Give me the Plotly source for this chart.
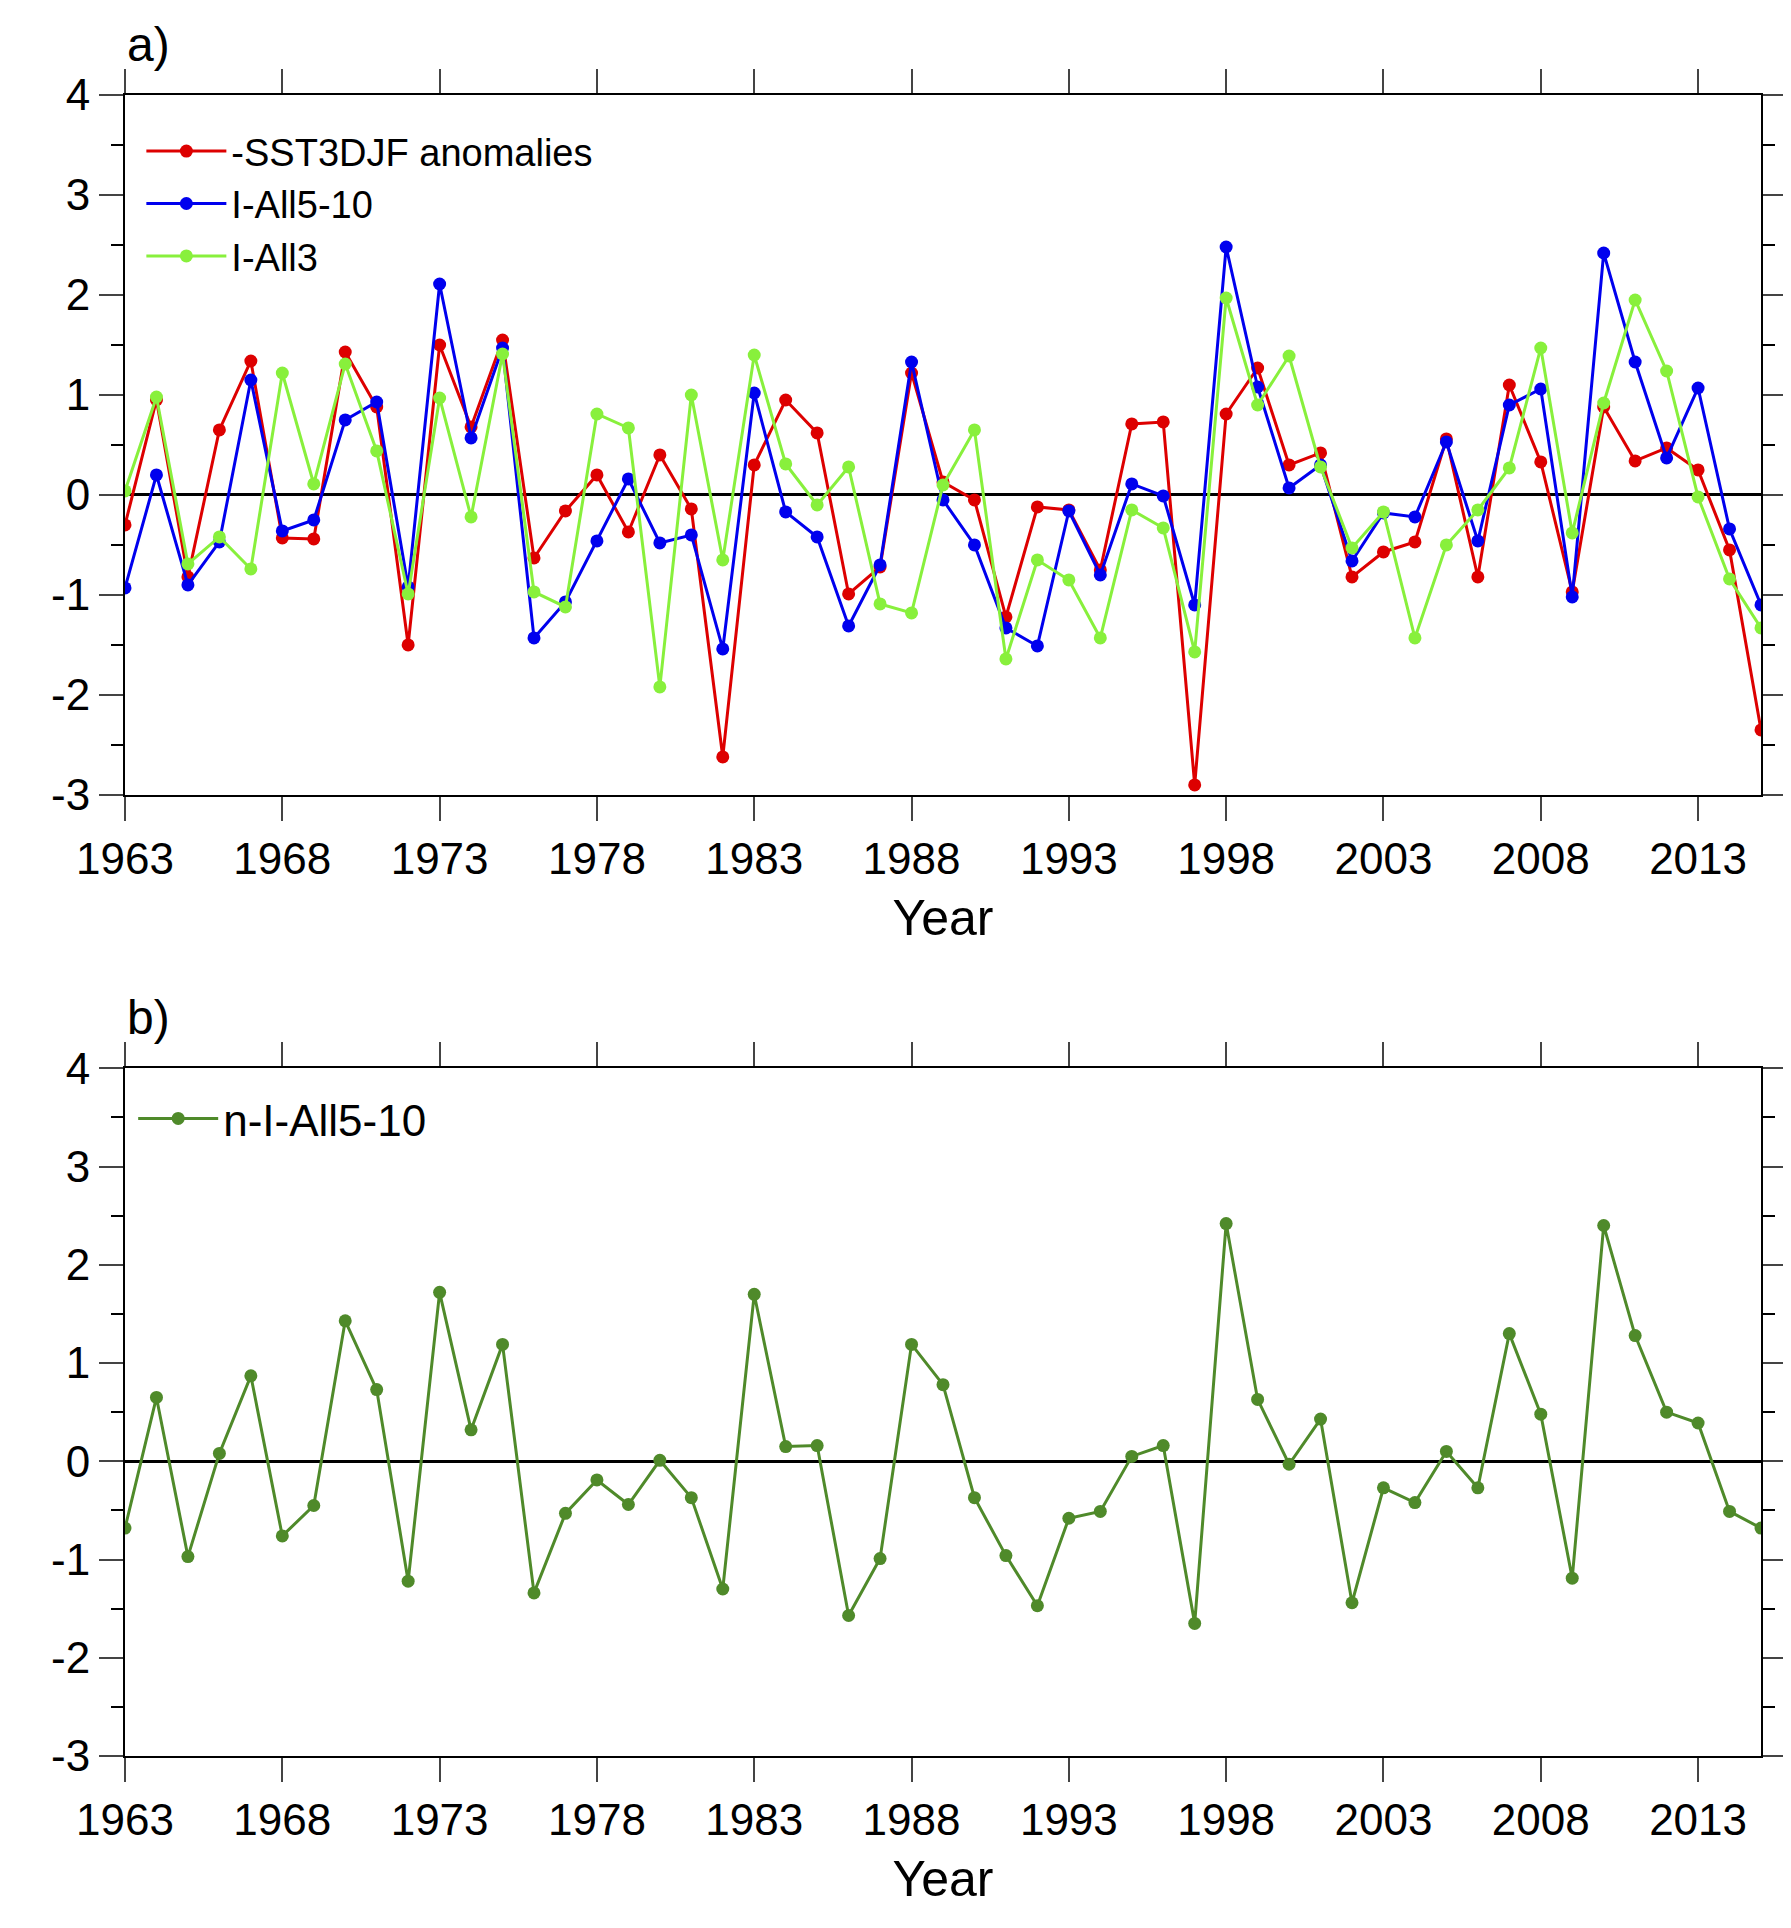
import plotly.graph_objects as go

years = list(range(1963, 2016))
sst = [-0.3,0.95,-0.82,0.65,1.34,-0.43,-0.44,1.43,0.88,-1.5,1.5,0.68,1.55,-0.63,-0.16,0.2,-0.37,0.4,-0.14,-2.62,
       0.3,0.95,0.62,-0.99,-0.72,1.22,0.13,-0.05,-1.22,-0.12,-0.15,-0.75,0.71,0.73,-2.9,0.81,1.27,0.3,0.42,-0.82,
       -0.57,-0.47,0.56,-0.82,1.1,0.33,-0.97,0.88,0.34,0.47,0.25,-0.55,-2.35]
iall510 = [-0.93,0.2,-0.9,-0.47,1.15,-0.36,-0.25,0.75,0.93,-0.92,2.11,0.57,1.47,-1.43,-1.07,-0.46,0.16,-0.48,-0.4,-1.54,
           1.02,-0.17,-0.42,-1.31,-0.7,1.33,-0.05,-0.5,-1.33,-1.51,-0.16,-0.8,0.11,-0.01,-1.1,2.48,1.08,0.07,0.3,-0.66,
           -0.18,-0.22,0.53,-0.46,0.9,1.06,-1.02,2.42,1.33,0.37,1.07,-0.34,-1.1]
iall3 = [0.04,0.98,-0.69,-0.42,-0.74,1.22,0.11,1.31,0.44,-0.99,0.97,-0.22,1.41,-0.97,-1.12,0.81,0.67,-1.92,1.0,-0.65,
         1.4,0.31,-0.1,0.28,-1.09,-1.18,0.1,0.65,-1.64,-0.65,-0.85,-1.43,-0.15,-0.33,-1.57,1.97,0.9,1.39,0.28,-0.53,
         -0.17,-1.43,-0.5,-0.15,0.27,1.47,-0.38,0.92,1.95,1.24,-0.02,-0.84,-1.33]
niall510 = [-0.68,0.65,-0.97,0.08,0.87,-0.76,-0.45,1.43,0.73,-1.22,1.72,0.32,1.19,-1.34,-0.53,-0.19,-0.44,0.01,-0.37,-1.3,
            1.7,0.15,0.16,-1.57,-0.99,1.19,0.78,-0.37,-0.96,-1.47,-0.58,-0.51,0.05,0.16,-1.65,2.42,0.63,-0.03,0.43,-1.44,
            -0.27,-0.42,0.1,-0.27,1.3,0.48,-1.19,2.4,1.28,0.5,0.39,-0.51,-0.68]
xticks = list(range(1963, 2016, 5))
yticks = [-3,-2,-1,0,1,2,3,4]
yticklabels = ["-3","-2","-1","0","1","2","3","4"]

FAM = "Liberation Sans, Arial"
fig = go.Figure()
def tr(y, name, color, xa, ya, legend):
    fig.add_trace(go.Scatter(x=years, y=y, name=name, mode="lines+markers", xaxis=xa, yaxis=ya, legend=legend,
                             line=dict(color=color, width=3), marker=dict(size=13, color=color)))
tr(sst, "-SST3DJF anomalies", "#dd0000", "x", "y", "legend")
tr(iall510, "I-All5-10", "#0000ee", "x", "y", "legend")
tr(iall3, "I-All3", "#88f03c", "x", "y", "legend")
tr(niall510, "n-I-All5-10", "#4f8a2a", "x2", "y2", "legend2")

font = dict(family=FAM, size=44, color="black")
xa = dict(range=[1963, 2015], tickvals=xticks, ticks="outside", ticklen=24, tickwidth=2, showline=True,
          linewidth=2, linecolor="black", mirror="ticks", showgrid=False, zeroline=False, tickfont=font,
          title=dict(text="Year", font=dict(family=FAM, size=50, color="black"), standoff=18))
ya = dict(range=[-3, 4], tickvals=yticks, ticktext=yticklabels, ticks="outside", ticklen=24, tickwidth=2,
          showline=True, linewidth=2, linecolor="black", mirror="ticks", showgrid=False, zeroline=True,
          zerolinecolor="black", zerolinewidth=2.5, tickfont=font,
          minor=dict(dtick=0.5, ticks="outside", ticklen=12, tickwidth=1.5, tickcolor="black"))
fig.update_layout(
    width=1791, height=1928, plot_bgcolor="white", paper_bgcolor="white",
    font=dict(family=FAM, color="black"),
    margin=dict(l=117, r=38, t=87, b=180),
    xaxis=dict(xa, domain=[0, 1], anchor="y"),
    yaxis=dict(ya, domain=[0.5786, 1], anchor="x"),
    xaxis2=dict(xa, domain=[0, 1], anchor="y2"),
    yaxis2=dict(ya, domain=[0, 0.414], anchor="x2"),
    legend=dict(x=0.01, y=0.985, xanchor="left", yanchor="top", bgcolor="rgba(0,0,0,0)",
                font=dict(family=FAM, size=38, color="black"), itemwidth=80, tracegroupgap=20),
    legend2=dict(x=0.005, y=0.405, xanchor="left", yanchor="top", bgcolor="rgba(0,0,0,0)",
                 font=dict(family=FAM, size=44, color="black"), itemwidth=80),
    annotations=[
        dict(text="a)", x=0, y=1, xref="paper", yref="paper", xanchor="left", yanchor="bottom", yshift=22,
             showarrow=False, font=dict(family=FAM, size=48, color="black")),
        dict(text="b)", x=0, y=0.414, xref="paper", yref="paper", xanchor="left", yanchor="bottom", yshift=22,
             showarrow=False, font=dict(family=FAM, size=48, color="black")),
    ],
)
fig.write_html("out.html")
